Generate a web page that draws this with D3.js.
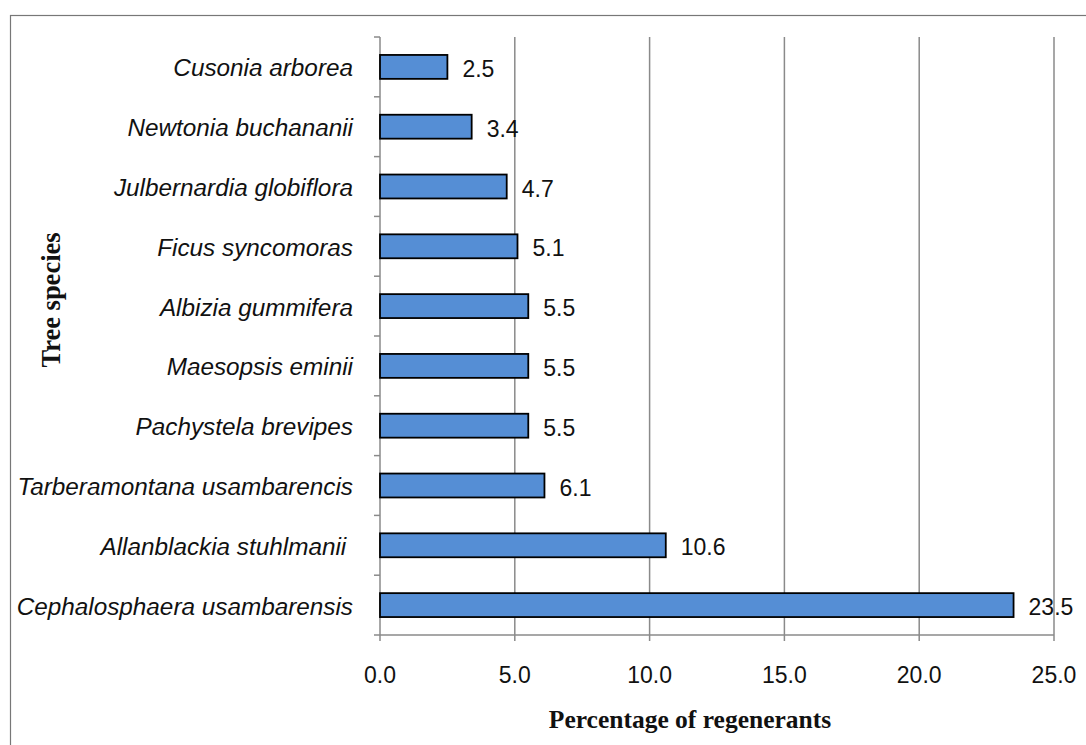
<!DOCTYPE html>
<html><head><meta charset="utf-8">
<script src="https://cdn.jsdelivr.net/npm/d3@7"></script>
<style>body{margin:0;background:#fff} text{white-space:pre}</style>
</head><body><svg id="c" width="1086" height="745"></svg>
<script>
const species = ["Cusonia arborea","Newtonia buchananii","Julbernardia globiflora","Ficus syncomoras","Albizia gummifera","Maesopsis eminii","Pachystela brevipes","Tarberamontana usambarencis","Allanblackia stuhlmanii ","Cephalosphaera usambarensis"];
const values = [2.5,3.4,4.7,5.1,5.5,5.5,5.5,6.1,10.6,23.5];
const xTicks = [0,5,10,15,20,25];
const xTitle = "Percentage of regenerants";
const yTitle = "Tree species";

const svg = d3.select("#c");
const L=380,R=1054,T=37,B=635;
svg.append("rect").attr("x",10.5).attr("y",15.5).attr("width",1090).attr("height",750)
  .attr("fill","none").attr("stroke","#777").attr("stroke-width",1.2);
const x = d3.scaleLinear().domain([0,25]).range([L,R]);
const y = d3.scaleBand().domain(species).range([T,B]).paddingInner(0.6).paddingOuter(0.3);
const band = (B-T)/species.length;
const sans = "Liberation Sans, Arial, sans-serif";
const serif = "Liberation Serif, Times New Roman, serif";

// gridlines
svg.append("g").selectAll("line").data(xTicks.slice(1)).join("line")
  .attr("x1",d=>x(d)).attr("x2",d=>x(d)).attr("y1",T).attr("y2",B+6)
  .attr("stroke","#8a8a8a").attr("stroke-width",1.5);
svg.append("line").attr("x1",L).attr("x2",R).attr("y1",B).attr("y2",B).attr("stroke","#8a8a8a").attr("stroke-width",1.5);
svg.append("line").attr("x1",L).attr("x2",L).attr("y1",B).attr("y2",B+6).attr("stroke","#8a8a8a").attr("stroke-width",1.5);
svg.append("line").attr("x1",L).attr("x2",L).attr("y1",T).attr("y2",B).attr("stroke","#8a8a8a").attr("stroke-width",1.5);
svg.append("g").selectAll("line").data(d3.range(species.length+1)).join("line")
  .attr("x1",L-6).attr("x2",L).attr("y1",i=>T+i*band).attr("y2",i=>T+i*band)
  .attr("stroke","#8a8a8a").attr("stroke-width",1.5);

// bars
svg.append("g").selectAll("rect").data(species).join("rect")
  .attr("x",x(0)).attr("y",d=>y(d)).attr("height",y.bandwidth())
  .attr("width",(d,i)=>x(values[i])-x(0))
  .attr("fill","#558ED5").attr("stroke","#000").attr("stroke-width",1.8);

// value labels
svg.append("g").selectAll("text").data(species).join("text")
  .attr("x",(d,i)=>x(values[i])+15).attr("y",d=>y(d)+y.bandwidth()/2+2)
  .attr("dominant-baseline","central")
  .attr("font-family",sans).attr("font-size",23).attr("fill","#111")
  .text((d,i)=>values[i].toFixed(1));

// category labels
svg.append("g").selectAll("text").data(species).join("text")
  .attr("x",353).attr("y",d=>y(d)+y.bandwidth()/2+1)
  .attr("text-anchor","end").attr("dominant-baseline","central")
  .attr("font-family",sans).attr("font-style","italic").attr("font-size",24.3).attr("fill","#111")
  .text(d=>d);

// x tick labels
svg.append("g").selectAll("text").data(xTicks).join("text")
  .attr("x",d=>x(d)).attr("y",675).attr("text-anchor","middle").attr("dominant-baseline","central")
  .attr("font-family",sans).attr("font-size",23).attr("fill","#111")
  .text(d=>d.toFixed(1));

svg.append("text").attr("x",690).attr("y",728).attr("text-anchor","middle")
  .attr("font-family",serif).attr("font-weight","bold").attr("font-size",25.5).attr("fill","#111")
  .text(xTitle);
svg.append("text").attr("transform","translate(60,300) rotate(-90)").attr("text-anchor","middle")
  .attr("font-family",serif).attr("font-weight","bold").attr("font-size",26.5).attr("fill","#111")
  .text(yTitle);
</script></body></html>
